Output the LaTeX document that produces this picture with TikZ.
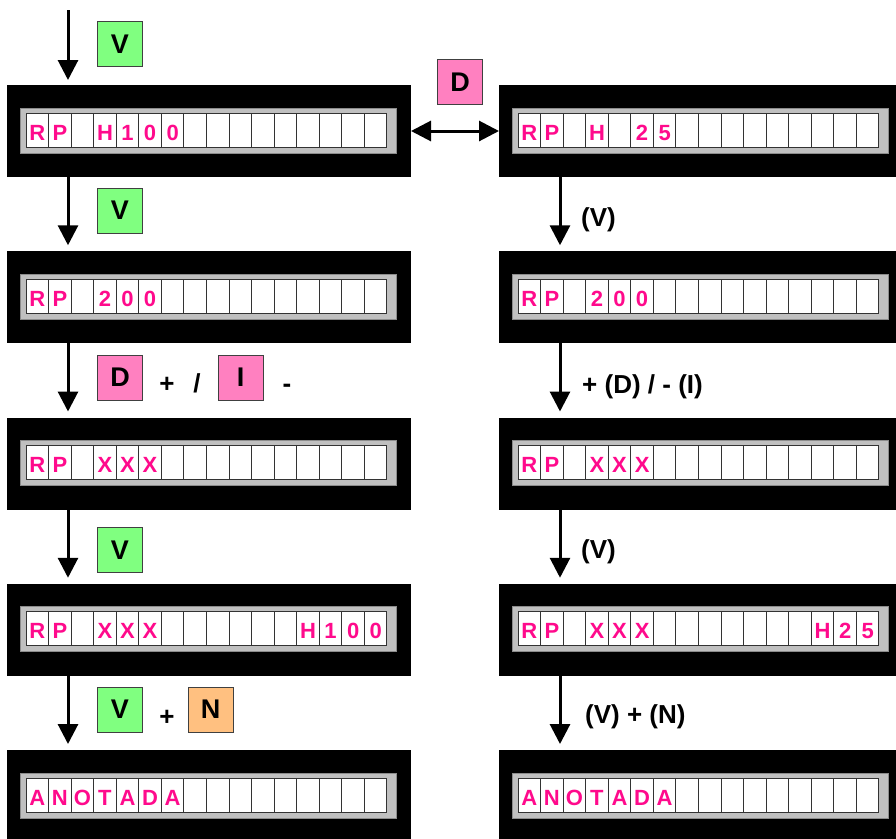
\documentclass[tikz,border=0pt]{standalone}
\usepackage{fontspec}
\setmainfont{Liberation Sans}
\usetikzlibrary{arrows.meta, positioning, calc}
\definecolor{keyGreen}{HTML}{80FF80}
\definecolor{keyPink}{HTML}{FF80C0}
\definecolor{keyOrange}{HTML}{FFC080}
\definecolor{lcdPink}{HTML}{FF0A8C}
\definecolor{bezelGray}{HTML}{C0C0C0}

\begin{document}
\begin{tikzpicture}[x=1pt, y=-1pt,
    lcdcase/.style={rectangle, fill=black, minimum width=404pt, minimum height=92pt,
      inner sep=0pt, outer sep=0pt},
    bezel/.style={rectangle, fill=bezelGray, draw=black!45, line width=1pt,
      minimum width=376pt, minimum height=45pt, inner sep=0pt},
    cell/.style={rectangle, fill=white, draw=black!80, line width=1pt,
      minimum width=22.56pt, minimum height=34pt, inner sep=0pt,
      text height=20pt, text depth=0pt, font=\fontsize{22}{24}\selectfont\bfseries, text=lcdPink},
    key/.style={rectangle, draw=black!75, line width=1pt, minimum size=45pt, inner sep=0pt,
      font=\fontsize{27}{30}\selectfont\bfseries},
    lbl/.style={font=\fontsize{26}{30}\selectfont\bfseries, inner sep=0pt},
    flow/.style={-{Triangle[length=20pt, width=20pt]}, line width=3pt},
    dflow/.style={{Triangle[length=20pt, width=20pt]}-{Triangle[length=20pt, width=20pt]}, line width=3pt}
  ]
  \useasboundingbox (0,0) rectangle (896,838);

  % displays
  \foreach \name/\cx/\cy/\txt in {
      L1/209/131/{R,P,{},H,1,0,0},
      L2/209/297.25/{R,P,{},2,0,0},
      L3/209/463.5/{R,P,{},X,X,X},
      L4/209/629.75/{R,P,{},X,X,X,{},{},{},{},{},{},H,1,0,0},
      L5/209/796/{A,N,O,T,A,D,A},
      R1/701/131/{R,P,{},H,{},2,5},
      R2/701/297.25/{R,P,{},2,0,0},
      R3/701/463.5/{R,P,{},X,X,X},
      R4/701/629.75/{R,P,{},X,X,X,{},{},{},{},{},{},{},H,2,5},
      R5/701/796/{A,N,O,T,A,D,A}} {
    \node[lcdcase] (\name) at (\cx,\cy) {};
    \node[bezel] (\name b) at (\cx-1,\cy-0.5) {};
    \foreach \k in {1,...,16}
      \node[cell] (\name c\k) at (\cx-194.28+22.56*\k,\cy-1) {};
    \foreach \c [count=\k] in \txt
      \node[cell, draw=none, fill=none] (\name t\k) at (\name c\k) {\c};
  }

  % arrows
  \coordinate (entry) at (68,10);
  \draw[flow, shorten >=5pt] (entry) -- (L1.north -| entry);
  \foreach \i/\j in {1/2,2/3,3/4,4/5} {
    \draw[flow, shorten >=6pt] ([xshift=-141pt]L\i.south) -- ([xshift=-141pt]L\j.north);
    \draw[flow, shorten >=6pt] ([xshift=-141pt]R\i.south) -- ([xshift=-141pt]R\j.north);
  }
  \draw[dflow] (L1.east) -- (R1.west);

  % keys, left side
  \node[key, fill=keyGreen] (kV0) at (120,44) {V};
  \node[key, fill=keyPink] (kD0) at (460,82) {D};
  \node[key, fill=keyGreen] (kV1) at (120,210.5) {V};
  \node[key, fill=keyPink] (kD2) at (120,377.5) {D};
  \node[lbl, anchor=base] (plus2) at (167,392) {+};
  \node[lbl, anchor=base] (slash2) at (197,392) {/};
  \node[key, fill=keyPink] (kI2) at (240.5,377.5) {I};
  \node[lbl, anchor=base] (minus2) at (287,392) {-};
  \node[key, fill=keyGreen] (kV3) at (120,550) {V};
  \node[key, fill=keyGreen] (kV4) at (120,709.5) {V};
  \node[lbl, anchor=base] (plus4) at (167,725) {+};
  \node[key, fill=keyOrange] (kN4) at (210.5,709.5) {N};

  % right side
  \node[lbl, anchor=base west] (rV1) at (581,226.5) {(V)};
  \node[lbl, anchor=base west] (rDI2) at (582,393) {+ (D) / - (I)};
  \node[lbl, anchor=base west] (rV3) at (581,558) {(V)};
  \node[lbl, anchor=base west] (rVN4) at (585,723) {(V) + (N)};
\end{tikzpicture}
\end{document}
